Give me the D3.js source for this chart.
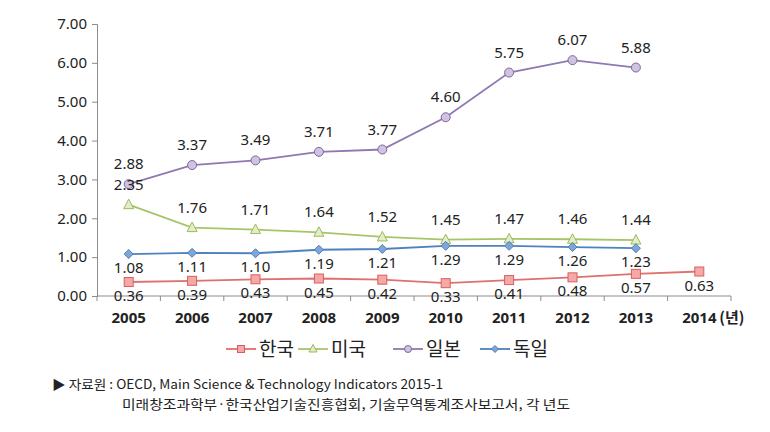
<!DOCTYPE html>
<html><head><meta charset="utf-8">
<script src="https://cdn.jsdelivr.net/npm/d3@7"></script>
<style>body{margin:0;background:#fff;} svg{display:block;}</style>
</head><body>
<svg id="c" width="770" height="432"></svg>
<script>
const years = ["2005","2006","2007","2008","2009","2010","2011","2012","2013","2014"];
const yTicks = [0,1,2,3,4,5,6,7];
const korea   = [0.36,0.39,0.43,0.45,0.42,0.33,0.41,0.48,0.57,0.63];
const usa     = [2.35,1.76,1.71,1.64,1.52,1.45,1.47,1.46,1.44,null];
const japan   = [2.88,3.37,3.49,3.71,3.77,4.60,5.75,6.07,5.88,null];
const germany = [1.08,1.11,1.10,1.19,1.21,1.29,1.29,1.26,1.23,null];
const seriesNames = ["한국","미국","일본","독일"];
const sourceLines = ["▶ 자료원 : OECD, Main Science & Technology Indicators 2015-1",
                     "미래창조과학부·한국산업기술진흥협회, 기술무역통계조사보고서, 각 년도"];
const unitLabel = "(년)";

const series = [
  {name:seriesNames[0], values:korea,   line:"#E0706E", fill:"#F2A9A8", stroke:"#D95F5C", shape:"square",   pos:"below"},
  {name:seriesNames[1], values:usa,     line:"#A8C468", fill:"#E3EDC8", stroke:"#9BBB59", shape:"triangle", pos:"above"},
  {name:seriesNames[2], values:japan,   line:"#8E79B0", fill:"#CFC4DF", stroke:"#8064A2", shape:"circle",   pos:"above"},
  {name:seriesNames[3], values:germany, line:"#4F81BD", fill:"#7FA6D6", stroke:"#4A7EBB", shape:"diamond",  pos:"below"}
];

const svg = d3.select("#c");
const x = d3.scaleBand().domain(years).range([97,731]);
const y = d3.scaleLinear().domain([0,7]).range([296,24]);
const cx = d => x(d) + x.bandwidth()/2;
const font = "'Noto Sans','Open Sans',sans-serif";
const axisColor = "#8c8c8c";

// Y axis
const yAxis = svg.append("g").attr("transform","translate(97,0)")
  .call(d3.axisLeft(y).tickValues(yTicks).tickFormat(d3.format(".2f")).tickSize(5).tickPadding(5));
yAxis.select(".domain").attr("stroke",axisColor);
yAxis.selectAll(".tick line").attr("stroke",axisColor);
yAxis.selectAll(".tick text").attr("font-family",font).attr("font-size",15).attr("fill","#222");

// X axis
const xAxis = svg.append("g").attr("transform","translate(0,296)")
  .call(d3.axisBottom(x).tickSize(0).tickPadding(16));
xAxis.select(".domain").attr("stroke",axisColor).attr("d","M97,0H731");
xAxis.selectAll(".tick text").attr("font-family",font).attr("font-size",15).attr("font-weight","bold").attr("fill","#222");
// boundary ticks
const bounds = years.map(d => x(d)).concat([x(years[years.length-1]) + x.bandwidth()]);
xAxis.selectAll(".bt").data(bounds).enter().append("line")
  .attr("x1",d=>d).attr("x2",d=>d).attr("y1",0).attr("y2",5).attr("stroke",axisColor);
svg.append("text").attr("x",cx(years[9])+20).attr("y",296+16+11)
  .attr("font-family","'Noto Sans CJK KR',sans-serif").attr("font-size",15).attr("font-weight","bold").attr("fill","#222")
  .text(unitLabel);

function drawMarker(g, shape, fill, stroke, s) {
  let el;
  if (shape==="square") el = g.append("rect").attr("x",-s).attr("y",-s).attr("width",2*s).attr("height",2*s);
  else if (shape==="circle") el = g.append("circle").attr("r",s);
  else if (shape==="triangle") el = g.append("path").attr("d",`M0,${-s-1}L${s+0.5},${s-0.5}L${-s-0.5},${s-0.5}Z`);
  else el = g.append("path").attr("d",`M0,${-s}L${s},0L0,${s}L${-s},0Z`);
  el.attr("fill",fill).attr("stroke",stroke).attr("stroke-width",1);
}

const line = d3.line().defined(d=>d.v!=null).x(d=>cx(d.k)).y(d=>y(d.v));
series.forEach(s => {
  const pts = years.map((k,i)=>({k, v:s.values[i]}));
  svg.append("path").datum(pts).attr("d",line).attr("fill","none").attr("stroke",s.line).attr("stroke-width",1.8);
  pts.filter(p=>p.v!=null).forEach(p=>{
    const g = svg.append("g").attr("transform",`translate(${cx(p.k)},${y(p.v)})`);
    drawMarker(g, s.shape, s.fill, s.stroke, s.shape==="diamond"?4.5:4.5);
  });
});
// labels
series.forEach(s => {
  years.forEach((k,i)=>{
    const v = s.values[i]; if (v==null) return;
    svg.append("text").attr("x",cx(k)).attr("y", s.pos==="above" ? y(v)-15 : y(v)+19)
      .attr("text-anchor","middle").attr("font-family",font).attr("font-size",15).attr("fill","#222")
      .text(v.toFixed(2));
  });
});

// Legend
const legX = [226, 298, 393, 480];
series.forEach((s,i)=>{
  const g = svg.append("g").attr("transform",`translate(${legX[i]},349)`);
  g.append("line").attr("x1",0).attr("x2",30).attr("stroke",s.line).attr("stroke-width",1.8);
  const m = g.append("g").attr("transform","translate(15,0)");
  drawMarker(m, s.shape, s.fill, s.stroke, 3.5);
  g.append("text").attr("x",33).attr("y",7).attr("font-family","'Noto Sans CJK KR',sans-serif")
    .attr("font-size",19).attr("fill","#222").text(s.name);
});

// Source
svg.append("text").attr("x",52).attr("y",389).attr("font-family","'Noto Sans CJK KR',sans-serif")
  .attr("font-size",13).attr("fill","#222").attr("textLength",391).attr("lengthAdjust","spacingAndGlyphs").text(sourceLines[0]);
svg.append("text").attr("x",122).attr("y",409).attr("font-family","'Noto Sans CJK KR',sans-serif")
  .attr("font-size",13).attr("fill","#222").attr("textLength",448).attr("lengthAdjust","spacingAndGlyphs").text(sourceLines[1]);
</script>
</body></html>
